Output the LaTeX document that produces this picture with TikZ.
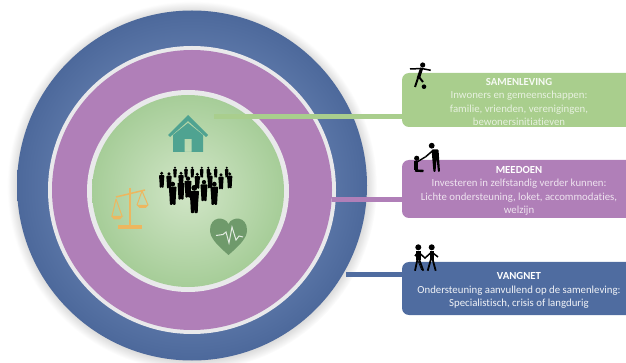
\documentclass[tikz,border=0pt]{standalone}
\usepackage{fontspec}
\setmainfont[Ligatures=NoCommon]{Carlito}
\usetikzlibrary{positioning}
\definecolor{ringblue}{HTML}{4F6CA0}
\definecolor{ringpurple}{HTML}{B07FB8}
\definecolor{ringgreen}{HTML}{A9CE8D}
\definecolor{ringwhite}{HTML}{E9E9EB}
\definecolor{coregreen}{HTML}{D2E6C8}
\definecolor{corerim}{HTML}{A6CD98}
\definecolor{housegreen}{HTML}{4FA391}
\definecolor{scalegold}{HTML}{EDB75F}
\definecolor{heartgreen}{HTML}{6F9A6B}
\pgfdeclareradialshading{halo}{\pgfpointorigin}{color(0bp)=(black!14); color(23.6bp)=(black!14); color(25bp)=(white); color(50bp)=(white)}
\pgfdeclareradialshading{bluering}{\pgfpointorigin}{color(0bp)=(ringblue); color(20.5bp)=(ringblue!95!white); color(25bp)=(ringblue!97!black); color(50bp)=(ringblue!97!black)}
\tikzset{
  x=1pt,y=-1pt,
  infobox/.style={rounded corners=7pt,minimum width=234pt,inner sep=0pt},
  infotext/.style={inner sep=0pt,align=center,font=\fontsize{10.8}{13.5}\selectfont},
  ring/.style={circle,inner sep=0pt},
  link/.style={line width=5pt},
  person/.pic={
    \fill (0,-5.1) circle (2.1);
    \fill[rounded corners=.8pt] (-3.4,-2.9) -- (3.4,-2.9) -- (2.8,5) -- (2.4,13) -- (.2,13) -- (0,6) -- (-.2,13) -- (-2.4,13) -- (-2.8,5) -- cycle;
  },
}
\begin{document}
\begin{tikzpicture}
  \useasboundingbox (0,0) rectangle (626,363);
  \node[ring,shading=halo,minimum size=370pt] (Halo) at (192,186) {};
  \node[ring,shading=bluering,minimum size=350pt] (Vangnet) at (192,185.5) {};
  \node[ring,fill=ringwhite,minimum size=288pt] (VangnetRim) at (192,190) {};
  \node[ring,fill=ringpurple,minimum size=280pt] (Meedoen) at (192,190) {};
  \node[ring,fill=ringwhite,minimum size=202pt] (MeedoenRim) at (188,191) {};
  \node[ring,inner color=coregreen,outer color=corerim,minimum size=192pt] (Samenleving) at (188,191) {};

  \coordinate (GreenStart) at (214,117);
  \coordinate (PurpleStart) at (Meedoen.east |- 0,200);
  \coordinate (BlueStart) at (346,274);
  \node[infobox,fill=ringgreen,minimum height=54pt] (BoxGreen) at (519,100) {};
  \node[infobox,fill=ringpurple,minimum height=58pt] (BoxPurple) at (519,189) {};
  \node[infobox,fill=ringblue,minimum height=53pt] (BoxBlue) at (519,288.5) {};
  \node[infotext,text=white!72!ringgreen] (TextGreen) at ([yshift=-2pt]BoxGreen.center) {\textcolor{white!90!ringgreen}{\textbf{SAMENLEVING}}\\Inwoners en gemeenschappen:\\familie, vrienden, verenigingen,\\bewonersinitiatieven};
  \node[infotext,text=white!78!ringpurple] (TextPurple) at ([yshift=-2pt]BoxPurple.center) {\textcolor{white}{\textbf{MEEDOEN}}\\Investeren in zelfstandig verder kunnen:\\Lichte ondersteuning, loket, accommodaties,\\welzijn};
  \node[infotext,text=white!92!ringblue] (TextBlue) at ([yshift=-2pt]BoxBlue.center) {\textcolor{white}{\textbf{VANGNET}}\\Ondersteuning aanvullend op de samenleving:\\Specialistisch, crisis of langdurig};
  \draw[ringgreen,link] (GreenStart) -- (BoxGreen.west |- GreenStart);
  \draw[ringpurple,link] (PurpleStart) -- (BoxPurple.west |- PurpleStart);
  \draw[ringblue,link] (BlueStart) -- (BoxBlue.west |- BlueStart);

  % house
  \begin{scope}[shift={(188,115)}]
    \fill[housegreen] (-20,20) -- (0,0) -- (20,20) -- (18,22) -- (0,6) -- (-18,22) -- cycle;
    \fill[housegreen,even odd rule] (-15,20) -- (0,8) -- (15,20) -- (15,37) -- (-15,37) -- cycle (-3.5,37) -- (3.5,37) -- (3.5,24) -- (-3.5,24) -- cycle;
  \end{scope}

  % crowd
  \foreach \px/\py/\ps in {175/170.6/.55,186/170.6/.55,192.3/170.6/.55,201.7/170.6/.55,208.3/170.6/.55,215.7/170.6/.55,226.7/170.6/.55,
    161.7/177.4/.8,169/178/.8,181/177.4/.8,197.3/178.4/.8,210/178/.8,221/179/.8,229.7/178/.8,
    181/186/1.05,188/184/1.05,204/187.5/1.05,172.7/190/1.15,214.3/190/1.15,194.3/195/1.4}
    \pic[scale=\ps] at (\px,\py) {person};

  % scale
  \begin{scope}[scalegold,line width=1.5pt]
    \draw (116,197) -- (145,190);
    \draw[line width=2pt] (130,188) -- (130,227);
    \draw[line width=3.2pt] (118,227) -- (142,227);
    \draw[line width=1pt] (116,199) -- (112,216) (116,199) -- (122,216);
    \draw[line width=1pt] (142,191) -- (137,205) (142,191) -- (148,205);
    \fill (111,216) -- (123,216) -- (120,219.5) -- (114,219.5) -- cycle;
    \fill (136.5,205) -- (148.5,205) -- (145.5,208) -- (139.5,208) -- cycle;
  \end{scope}

  % heart
  \fill[heartgreen] (228.5,255) .. controls (217,245) and (210,238) .. (210,230) .. controls (210,216) and (225,216) .. (228.5,224) .. controls (232,216) and (247,216) .. (247,230) .. controls (247,238) and (240,245) .. (228.5,255) -- cycle;
  \draw[white!80!heartgreen,line width=1pt] (216,235.5) -- (223,234.5) -- (226,232) -- (229,243) -- (232,227) -- (236,240) -- (239,236) -- (243,237);

  % footballer
  \fill (422.7,65) circle (2.6);
  \draw[line width=1.5pt] (410,69) -- (421.7,68.5) -- (430.7,70.3);
  \draw[line width=3.2pt] (421.7,68) -- (418.3,78.3);
  \draw[line width=2pt] (418.3,77) -- (415,87);
  \draw[line width=2pt] (419,77) -- (423,82);
  \fill (424,86.7) circle (2.3);

  % helper
  \fill (431.7,145.7) circle (2.9);
  \fill[rounded corners=1pt] (431.5,149.5) -- (438.5,149.5) -- (440,172) -- (438,172) -- (436.5,158) -- (435.5,172) -- (433.5,172) -- cycle;
  \draw[line width=1.5pt] (433,150.5) -- (425.7,156.7);
  \fill (416.7,158.3) circle (2.6);
  \draw[line width=4pt] (416,161) -- (416,170);
  \draw[line width=2.4pt] (415,170.5) -- (423.5,171);
  \draw[line width=1.4pt] (417,162) -- (425.7,156.7);

  % hand in hand
  \fill (418.3,247.3) circle (3);
  \fill (431.7,247.3) circle (3);
  \draw[line width=4.4pt] (418.3,251.5) -- (418.3,260);
  \draw[line width=4.4pt] (431.7,251.5) -- (431.7,260);
  \draw[line width=1.5pt] (418.3,252) -- (425,258) -- (431.7,252);
  \draw[line width=1.5pt] (431.7,252) -- (438,257);
  \draw[line width=1.5pt] (418,252) -- (415,256);
  \draw[line width=1.8pt] (417.5,259) -- (415,270.7);
  \draw[line width=1.8pt] (419,259) -- (423.3,270.7);
  \draw[line width=1.8pt] (431,259) -- (427.7,270.7);
  \draw[line width=1.8pt] (432.5,259) -- (435.7,270.7);
  \draw[line width=.8pt] (415.7,255) -- (421.7,270);
\end{tikzpicture}
\end{document}
